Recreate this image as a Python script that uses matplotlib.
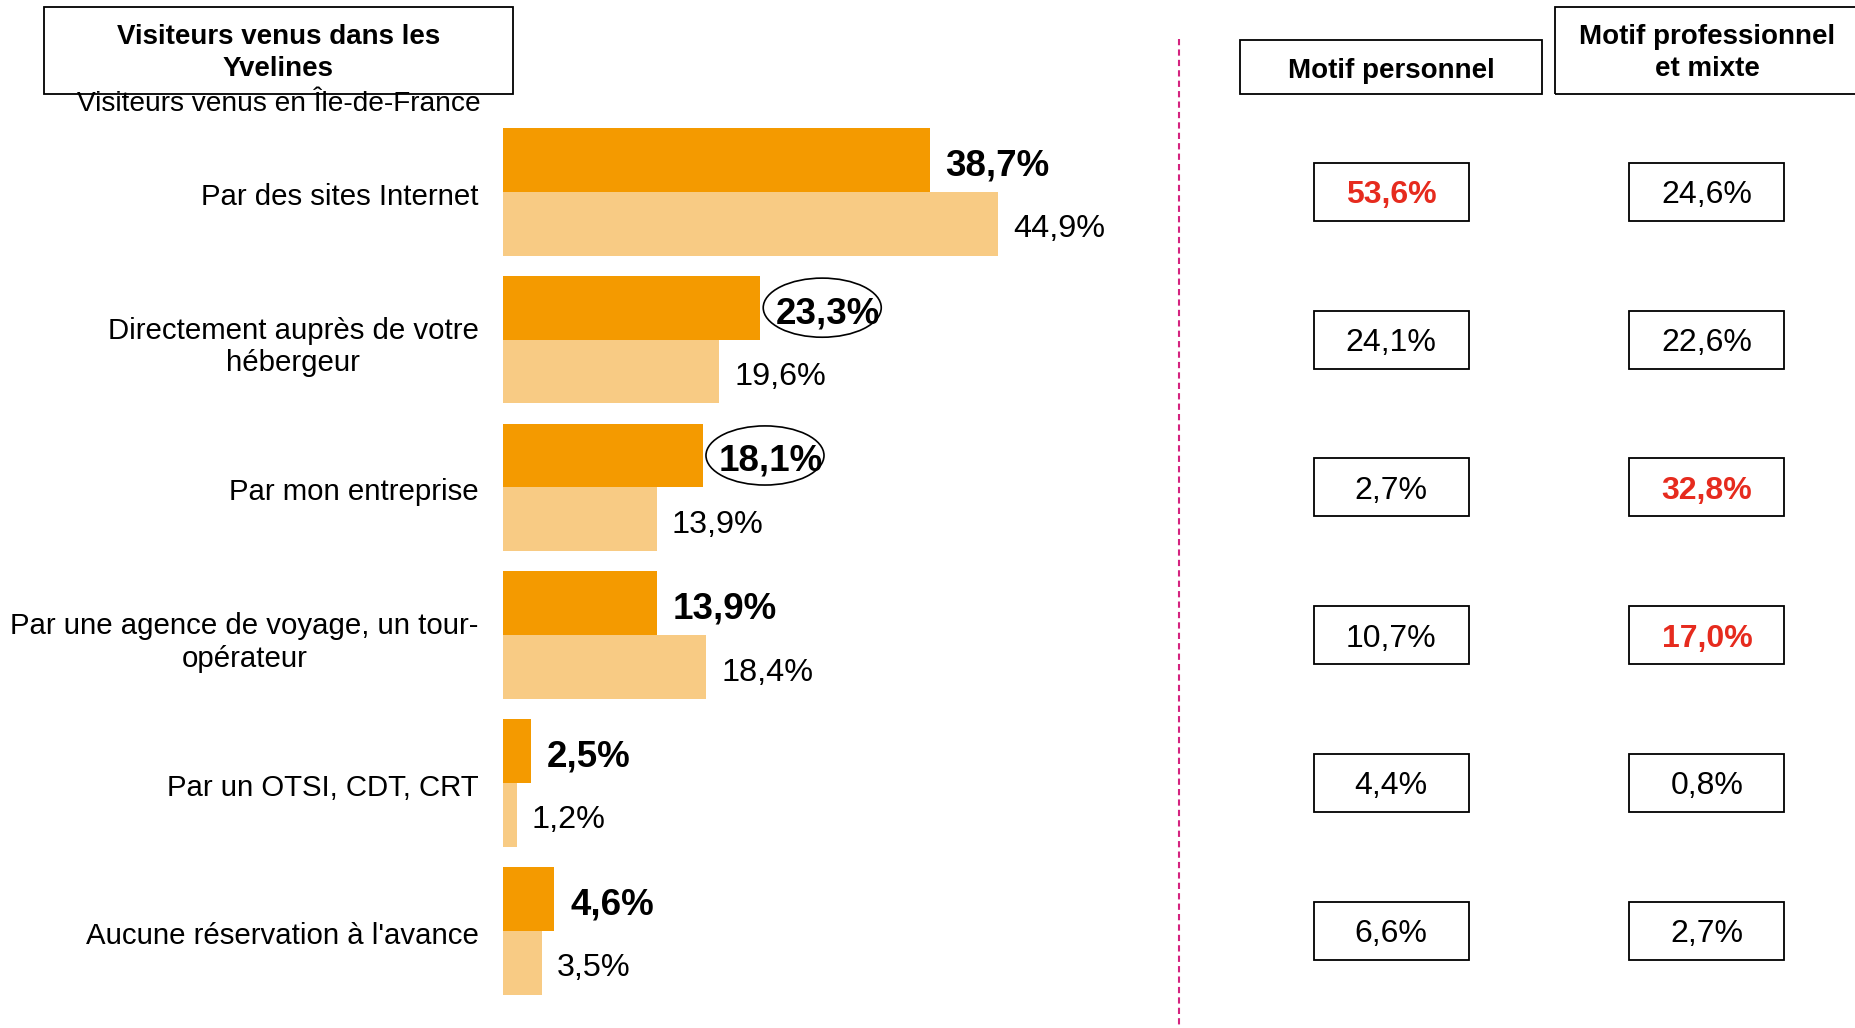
import matplotlib
matplotlib.use("Agg")
import matplotlib.pyplot as plt
import matplotlib.transforms as mtransforms
from matplotlib.patches import Rectangle, Ellipse
from matplotlib.lines import Line2D

plt.rcParams["font.family"] = ["Liberation Sans", "DejaVu Sans"]

categories = [
    "Par des sites Internet",
    "Directement auprès de votre\nhébergeur",
    "Par mon entreprise",
    "Par une agence de voyage, un tour-\nopérateur",
    "Par un OTSI, CDT, CRT",
    "Aucune réservation à l'avance",
]
yvelines = [38.7, 23.3, 18.1, 13.9, 2.5, 4.6]
idf = [44.9, 19.6, 13.9, 18.4, 1.2, 3.5]
motif_perso = [53.6, 24.1, 2.7, 10.7, 4.4, 6.6]
motif_pro = [24.6, 22.6, 32.8, 17.0, 0.8, 2.7]
perso_highlight = [0]
pro_highlight = [2, 3]
circled = [1, 2]

DARK = "#F49A00"
LIGHT = "#F8CB84"
RED = "#E62B1E"
PINK = "#D4237F"

W, H = 1856, 1028
fig = plt.figure(figsize=(W / 100, H / 100), dpi=100)


def fx(px):
    return px / W


def fy(py):
    return 1 - py / H


def fmt(v):
    return f"{v:.1f}%".replace(".", ",")


# bar area: x from pixel 503.5 to the dashed line, 11.01 px per percent
x0, x1 = 503.5, 1179
top, step = 191.8, 147.8
ax = fig.add_axes([fx(x0), 0, fx(x1 - x0), 1])
ax.set_xlim(0, (x1 - x0) / 11.01)
ax.set_ylim((H - top) / step, -top / step)
ax.axis("off")

bh = 0.432
ys = list(range(len(categories)))
ax.barh([y - bh / 2 for y in ys], yvelines, height=bh, color=DARK)
ax.barh([y + bh / 2 for y in ys], idf, height=bh, color=LIGHT)

for i, (cat, a, b) in enumerate(zip(categories, yvelines, idf)):
    ax.annotate(cat, (0, i), xytext=(-25, -2), textcoords="offset pixels",
                ha="right", va="center_baseline", multialignment="center",
                fontsize=21.2, linespacing=1.22)
    ax.annotate(fmt(a), (a, i - bh / 2), xytext=(16, -2), textcoords="offset pixels",
                ha="left", va="center_baseline", fontsize=26.5, fontweight="bold")
    ax.annotate(fmt(b), (b, i + bh / 2), xytext=(15, -2), textcoords="offset pixels",
                ha="left", va="center_baseline", fontsize=23.3)
    if i in circled:
        ax.add_patch(Ellipse((a + 5.65, i - bh / 2), 10.72, 0.40, fill=False,
                             edgecolor="black", linewidth=1.2, clip_on=False))

# right-hand columns
tr = mtransforms.blended_transform_factory(fig.transFigure, ax.transData)
cols = [(1391, motif_perso, perso_highlight), (1707, motif_pro, pro_highlight)]
bw, bhh = 155, 58 / step
for cx, vals, hl in cols:
    for i, v in enumerate(vals):
        ax.add_patch(Rectangle((fx(cx - bw / 2), i - bhh / 2), fx(bw), bhh,
                               transform=tr, fill=False, edgecolor="black",
                               linewidth=1.3, clip_on=False))
        red = i in hl
        ax.text(fx(cx), i, fmt(v), transform=tr, ha="center", va="center_baseline",
                fontsize=23, color=RED if red else "black",
                fontweight="bold" if red else "normal")

# header boxes
headers = [
    (44, 7, 513, 94, "Visiteurs venus dans les\nYvelines"),
    (1240, 40, 1542, 94, "Motif personnel"),
    (1555, 7, 1859, 94, "Motif professionnel\net mixte"),
]
for l, t, r, b, txt in headers:
    fig.add_artist(Rectangle((fx(l), fy(b)), fx(r - l), (b - t) / H,
                             transform=fig.transFigure, fill=False,
                             edgecolor="black", linewidth=1.3, clip_on=False))
    shift = 5 if "\n" in txt else 0
    fig.text(fx((l + r) / 2), fy((t + b) / 2 + 1 - shift), txt, ha="center",
             va="center_baseline", fontsize=20, fontweight="bold", linespacing=1.35)

fig.text(fx(279), fy(101), "Visiteurs venus en Île-de-France", ha="center",
         va="center_baseline", fontsize=20.2)

fig.add_artist(Line2D([fx(1179), fx(1179)], [fy(39), 0], transform=fig.transFigure,
                      color=PINK, linewidth=1.5, dashes=(3, 2)))

fig.savefig("out.png", dpi=100)
